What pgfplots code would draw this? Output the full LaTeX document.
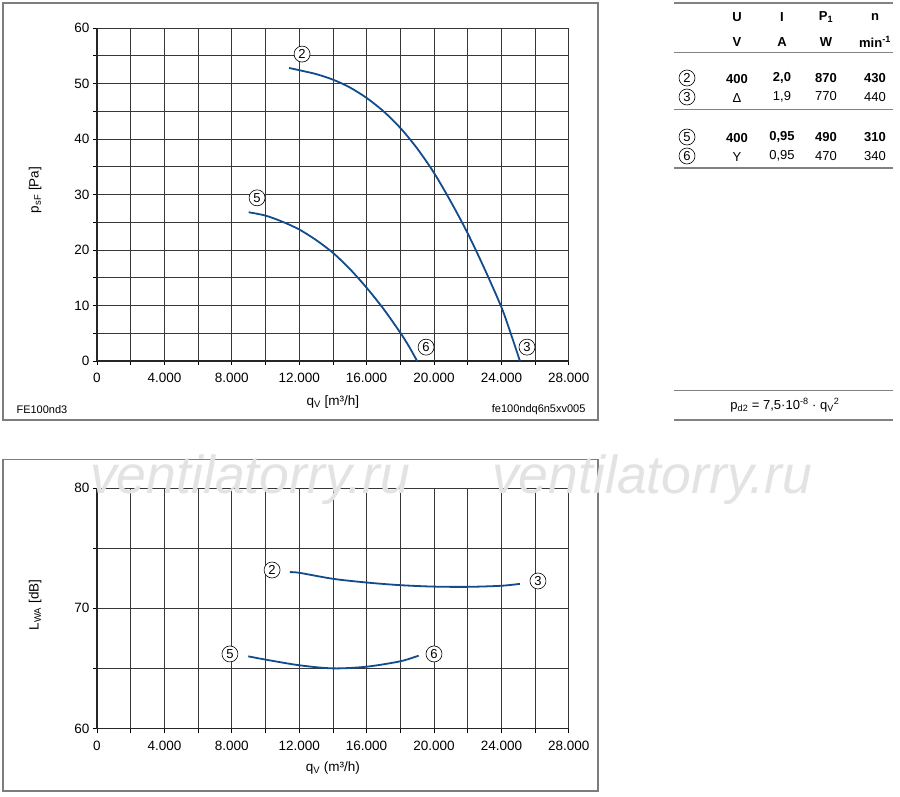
\documentclass[border=0pt]{standalone}
\usepackage{fontspec}
\setmainfont{Liberation Sans}
\usepackage{pgfplots}
\pgfplotsset{compat=1.18}
\definecolor{curve}{RGB}{18,76,140}
\definecolor{framec}{RGB}{125,125,125}
\definecolor{gridc}{RGB}{55,55,55}
\definecolor{tabline}{RGB}{130,130,130}
\tikzset{circ/.style={circle, draw=black, line width=0.6pt, inner sep=0pt, minimum size=16pt, fill=white, font=\fontsize{13}{13}\selectfont}}
\pgfplotsset{fancurve/.style={color=curve, line width=1.8pt, mark=none, smooth},
 fanchart/.style={
  scale only axis, width=471.8pt, xmin=0, xmax=28000,
  axis lines=left, axis line style={-, line width=1.4pt, black!85},
  xtick={0,4000,...,28000},
  xticklabels={0,4.000,8.000,12.000,16.000,20.000,24.000,28.000},
  minor xtick={2000,6000,...,26000},
  grid=both,
  major grid style={gridc, line width=0.8pt},
  minor grid style={gridc, line width=0.8pt},
  tick align=outside, major tick length=4pt, minor tick length=4pt,
  tick style={black, line width=0.8pt},
  ticklabel style={font=\fontsize{13.5}{14}\selectfont},
  xticklabel style={yshift=-5pt},
  label style={font=\fontsize{13.5}{14}\selectfont},
  scaled ticks=false, clip=false
}}
\newcommand{\wm}[2]{%
  \node[anchor=base west, inner sep=0pt, text=black!11, font=\fontsize{53.5}{53.5}\itshape\selectfont] at (#1pt,-#2pt) {ventilatorry.ru};}
\begin{document}
\begin{tikzpicture}
\useasboundingbox[fill=white] (0,0) rectangle (900pt,-797pt);
% frames
\draw[framec, line width=1.5pt] (3pt,-3pt) rectangle (598pt,-420pt);
\draw[framec, line width=1.5pt] (3pt,-459.5pt) rectangle (598pt,-791pt);

% ---------- top chart ----------
\begin{axis}[fanchart, at={(97pt,-361pt)}, anchor=south west, height=333pt,
  ymin=0, ymax=60, ytick={0,10,...,60}, yticklabels={0,10,20,30,40,50,60},
  minor ytick={5,15,...,55},
  xlabel={q\textsubscript{V} [m³/h]},
  xlabel style={at={(axis description cs:0.5,-0.123)}, anchor=center},
  ylabel={p\textsubscript{sF} [Pa]},
  ylabel style={at={(axis description cs:-0.131,0.5135)}, anchor=center}]
\addplot[fancurve] coordinates {(11400,52.8) (12000,52.4) (13000,51.7) (14000,50.7) (15000,49.3) (16000,47.4) (17000,45.0) (18000,42.0) (19000,38.3) (20000,33.9) (21000,28.7) (22000,23.0) (23000,16.6) (24000,9.7) (24550,5.0) (25100,0)};
\addplot[fancurve] coordinates {(9000,26.8) (10000,26.2) (11000,25.1) (12000,23.7) (13000,21.8) (14000,19.5) (15000,16.6) (16000,13.2) (17000,9.4) (18000,5.1) (18500,2.7) (19000,0)};
\node[circ] at (axis cs:12170,55.3) {2};
\node[circ] at (axis cs:9500,29.4) {5};
\node[circ] at (axis cs:19530,2.5) {6};
\node[circ] at (axis cs:25520,2.5) {3};
\end{axis}
\node[anchor=west, font=\fontsize{11}{11}\selectfont] at (13pt,-410pt) {FE100nd3};
\node[anchor=east, font=\fontsize{11}{11}\selectfont] at (589pt,-410pt) {fe100ndq6n5xv005};

% ---------- bottom chart ----------
\begin{axis}[fanchart, at={(97pt,-728.5pt)}, anchor=south west, height=240.5pt,
  ymin=60, ymax=80, ytick={60,70,80}, yticklabels={60,70,80},
  minor ytick={65,75},
  xlabel={q\textsubscript{V} (m³/h)},
  xlabel style={at={(axis description cs:0.5,-0.164)}, anchor=center},
  ylabel={L\textsubscript{WA} [dB]},
  ylabel style={at={(axis description cs:-0.131,0.5135)}, anchor=center}]
\addplot[fancurve] coordinates {(11450,73.0) (12000,72.95) (14000,72.45) (16000,72.14) (18000,71.92) (20000,71.8) (22000,71.78) (24000,71.87) (25100,72.03)};
\addplot[fancurve] coordinates {(8980,66.0) (10000,65.73) (12000,65.26) (14000,65.0) (16000,65.14) (18000,65.59) (19090,66.06)};
\node[circ] at (axis cs:10390,73.18) {2};
\node[circ] at (axis cs:26170,72.27) {3};
\node[circ] at (axis cs:7890,66.2) {5};
\node[circ] at (axis cs:20000,66.2) {6};
\end{axis}

% watermark
\wm{90}{493}
\wm{492}{493}

% ---------- table ----------
\begin{scope}[font=\fontsize{13}{13}\selectfont]
\draw[tabline, line width=1.5pt] (674pt,-3pt) -- (893pt,-3pt);
\draw[tabline, line width=1.2pt] (674pt,-52.5pt) -- (893pt,-52.5pt);
\draw[tabline, line width=1.2pt] (674pt,-109.5pt) -- (893pt,-109.5pt);
\draw[tabline, line width=1.5pt] (674pt,-168pt) -- (893pt,-168pt);
\node[font=\fontsize{13}{13}\bfseries\selectfont] at (737pt,-17pt) {U};
\node[font=\fontsize{13}{13}\bfseries\selectfont] at (782pt,-17pt) {I};
\node[font=\fontsize{13}{13}\bfseries\selectfont] at (826pt,-17pt) {P\textsubscript{1}};
\node[font=\fontsize{13}{13}\bfseries\selectfont] at (875pt,-17pt) {n};
\node[font=\fontsize{13}{13}\bfseries\selectfont] at (737pt,-42pt) {V};
\node[font=\fontsize{13}{13}\bfseries\selectfont] at (782pt,-42pt) {A};
\node[font=\fontsize{13}{13}\bfseries\selectfont] at (826pt,-42pt) {W};
\node[font=\fontsize{13}{13}\bfseries\selectfont] at (875pt,-42pt) {min\textsuperscript{-1}};
\node[circ] at (687pt,-78pt) {2};
\node[circ] at (687pt,-97pt) {3};
\node[circ] at (687pt,-137pt) {5};
\node[circ] at (687pt,-156pt) {6};
\begin{scope}[font=\fontsize{13}{13}\bfseries\selectfont]
\node at (737pt,-79pt) {400};
\node at (782pt,-78pt) {2,0};
\node at (826pt,-78pt) {870};
\node at (875pt,-78pt) {430};
\node at (737pt,-138pt) {400};
\node at (782pt,-137pt) {0,95};
\node at (826pt,-137pt) {490};
\node at (875pt,-137pt) {310};
\end{scope}
\node at (737pt,-98pt) {Δ};
\node at (782pt,-97pt) {1,9};
\node at (826pt,-96pt) {770};
\node at (875pt,-97pt) {440};
\node at (737pt,-157pt) {Y};
\node at (782pt,-156pt) {0,95};
\node at (826pt,-156pt) {470};
\node at (875pt,-156pt) {340};
\draw[tabline, line width=1.2pt] (674pt,-390.5pt) -- (893pt,-390.5pt);
\draw[tabline, line width=1.2pt] (674pt,-420pt) -- (893pt,-420pt);
\node at (785pt,-405pt) {p\textsubscript{d2} = 7,5·10\textsuperscript{-8} · q\textsubscript{V}\textsuperscript{2}};
\end{scope}
\end{tikzpicture}
\end{document}
